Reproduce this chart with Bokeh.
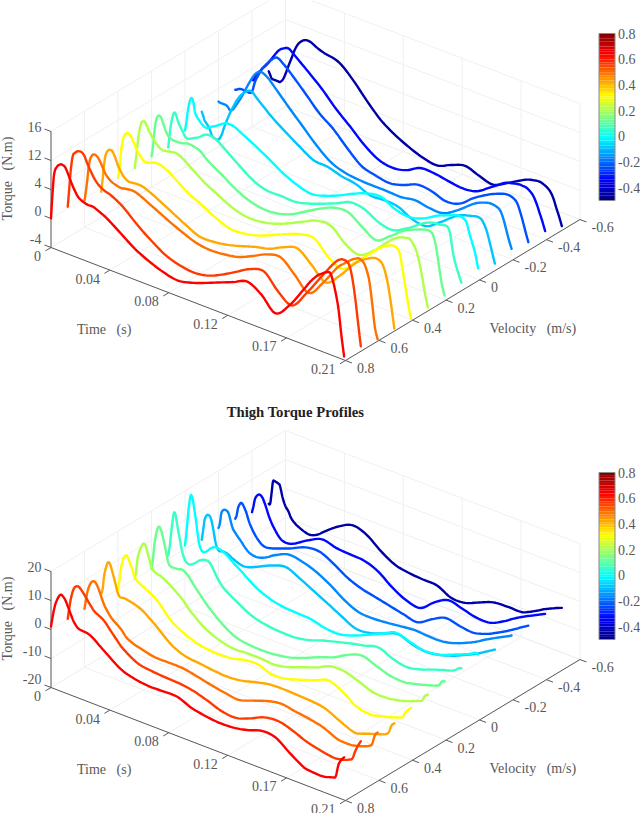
import numpy as np
from bokeh.plotting import figure
from bokeh.models import Range1d
from bokeh.core.properties import value
from bokeh.embed import file_html
from bokeh.resources import INLINE

time_ms=[0,1,2,3,4,5,6,7,8,10,12,14,16,19,22,26,30,35,40,50,60,70,80,90,100,110,120,130,140,150,160,170,180,185,190,193,196,199,201,203,205,207,209]
velocity=[0.8,0.7,0.6,0.5,0.4,0.3,0.2,0.1,0.0,-0.1,-0.2,-0.3,-0.4,-0.5]
colors=["#ff0000","#ff3a00","#ff7000","#ffa800","#ffff00","#b0ff48","#68ff90","#38ffc4","#00ffff","#00c4ff","#0088ff","#0050ff","#0008ff","#0000a8"]

torque_upper=[
[1,5.1,8.4,9.7,10.2,10.6,10.8,11,11,10.8,9.9,8.8,7.8,6.6,6.1,5.8,5.8,5.3,4.7,3,1.3,0.1,-0.8,-1.3,-0.8,0.1,1.1,2.1,3.1,1.8,-0.5,1.8,5.4,7.3,8.8,9.4,9.9,10.1,8.9,7,4.4,0.2,-3.4],
[1.3,4.3,7.4,9.6,10.7,11,11.3,11.5,11.6,11.6,11.1,10,9.1,7.9,7.1,6.5,6.2,5.6,4.8,2.7,0.9,-0.6,-1.4,-1.7,-1.3,-0.2,1.2,2.6,3.1,0.6,-0.9,2.1,5.7,7.5,9.2,10,10.4,10.3,9.7,7.7,4.5,0.5,-3.4],
[0.6,2.3,4.4,6.7,8.1,8.7,9.1,9.2,9.2,8.8,8,7,6.3,5.7,5.4,5.2,5.4,5.5,5.1,3.9,2.7,1.6,0.7,0.4,0.6,1.1,2.2,3.4,3.8,1.7,-0.5,2.2,5.7,6.9,8,8.5,8.8,8.4,7.4,5.7,2.2,-1.9,-3.9],
[0.4,2.7,5.2,6.9,7.6,8,8.2,8.2,8.1,7.2,6,5.2,4.5,4,4,4.1,4,3.5,2.9,1.6,0.3,-0.8,-0.8,-0.4,0.3,1.1,1.7,2.9,3.6,1.7,-0.4,1.7,4.6,5.7,6.5,6.9,7.1,6.9,6.3,4.9,2.7,-0.4,-3.8],
[1.1,2.6,5.3,7.3,8.4,9,9.3,9.4,9.3,8.8,7.8,6.9,6.3,5.6,5.7,6.1,6.1,5.6,4.8,3.1,1.9,0.6,-0.3,-0.2,0.4,1.4,2.5,3.4,3.6,1.3,0.2,2.4,4.7,5.9,6.9,7.3,7.6,7.4,6.6,4,1.2,-1.6,-3.9],
[1,3,5.3,7.2,8.6,9.4,9.6,9.7,9.4,8.4,7.7,7,6.5,6,6,6.2,6.3,5.7,4.8,3.1,1.8,0.6,0,0.1,0.7,1.7,2.9,4,4,1.9,0.9,2.5,4.9,6,6.7,6.9,7,6.2,5.2,3.5,1.2,-1.5,-3.6],
[1.3,2.9,5.6,7.5,8.4,8.8,8.8,8.6,8,6.7,5.9,5.6,5.5,5.5,5.6,5.9,5.8,5.4,4.3,2.8,1.2,0.1,-0.4,-0.2,0.6,2,3.4,4.5,4.7,3.1,1.7,3.3,5.2,5.8,6.3,6.6,6.8,6.8,6.2,4.4,1.4,-1.5,-3.3],
[1.1,3.4,5.3,6.6,7.4,7.5,6.9,6.2,5.7,4.9,4.1,3.9,4.1,4.5,4.9,5.7,5.9,5.5,4.6,2.8,1.1,0.2,0.2,0.1,0.7,1.6,2.6,3.7,3.4,2.1,1.7,2.9,4.6,5.3,5.7,5.7,5.9,5.9,4.9,1.8,-0.1,-1.5,-2.8],
[2.3,3.8,5.8,7.2,8.1,8.3,7.7,6.3,5.6,5,4.5,4.2,4.2,4.7,5.1,5.8,6.3,6.2,5.6,4.3,2.9,1.4,0.3,-0.3,0.3,1.3,2.5,3.5,3.8,2.6,2.2,2.9,4.3,4.8,5.3,5.6,5.7,5.5,4.9,3.2,1.8,0.2,-2.1],
[3.8,3.2,2.5,2.2,1.9,1.6,1.1,0.5,0.2,0,0.1,1,2.6,4.7,6.5,8.5,9.8,10.6,9.6,7.5,5.8,4.2,2.8,2.6,1.9,1.5,0.5,0.6,0.4,-0.8,-1.1,0.5,2.4,3.1,3.5,3.7,3.9,3.8,3.2,2.2,0.6,-1.2,-3],
[3.8,3.7,3.7,3.7,3.7,3.7,3.6,3.4,3.1,3.3,4.1,5,5.9,7.5,9.1,10.9,11.7,11.2,10,7.5,5.1,2.7,0.8,-0.1,-0.4,-0.5,-0.5,-0.6,-0.2,-0.6,-0.6,0.8,2.7,3.5,4,4.2,4.2,4,3.6,2.5,0.9,-0.8,-2.2],
[4.1,4.2,4.4,4.5,4.6,4.6,4.6,4.6,4.6,4.5,4.9,6.7,7.9,9.4,10.5,11.7,12.4,11.6,10.5,8.1,5.6,3.8,1.4,-0.7,-1.4,-1.8,-1.2,-0.2,-0.4,-1.2,-0.7,1.2,2.7,3.3,3.8,4,4,3.7,3.2,2,0.5,-1.2,-2.8],
[4.2,4.1,4.6,5.1,5.5,5.9,6.2,6.6,6.9,7.5,8.2,9,9.8,10.9,11.5,11.9,11.2,10.2,9.2,7.1,4.6,2.5,0.3,-1.3,-1.8,-1.3,0,0,-0.4,-0.7,-0.3,1.3,3,3.4,3.7,3.7,3.6,3.1,2.5,1.5,0.2,-1.1,-2.6],
[3.8,3.3,2.8,2.7,2.7,2.7,2.7,2.7,2.7,3.3,4.5,6,7.4,9.5,10.8,11.6,11.6,11,10.6,10,7.9,5.2,2.8,1.2,0,-0.9,-1.3,-0.3,0.5,-0.3,-0.9,0.3,1.7,2.3,2.6,2.7,2.5,2.1,1.6,0.7,-0.7,-2,-3.5],
]
torque_thigh=[
[1.0,4.1,6.9,9.1,10.6,11.8,12.8,13.3,13.2,12.2,10.2,8.0,5.9,4.1,3.7,3.5,2.6,0.7,-1.1,-4.5,-6.0,-6.6,-6.5,-6.5,-8.4,-9.4,-9.9,-9.7,-8.7,-7.1,-7.5,-10.9,-14.0,-14.5,-14.7,-14.7,-14.5,-14.0,-13.7,-13.0,-8.6,-6.6,-5.3],
[0.2,3.8,7.0,9.3,11.0,12.0,12.5,12.7,12.7,11.8,10.6,9.3,8.0,6.3,5.5,4.3,2.1,-0.6,-3.0,-5.9,-6.7,-7.1,-7.3,-8.1,-9.6,-11.3,-11.7,-10.0,-7.8,-7.2,-8.5,-10.5,-11.7,-12.2,-12.5,-12.3,-12.0,-11.5,-11.0,-10.3,-7.4,-5.1,-3.2],
[0.2,3.4,6.2,8.1,9.4,10.3,10.8,10.9,10.6,9.0,6.5,4.2,2.6,0.7,-0.5,-2.0,-4.2,-5.4,-6.1,-7.2,-7.2,-7.3,-8.2,-9.3,-10.2,-10.8,-9.2,-7.5,-6.5,-7.3,-8.0,-9.1,-11.2,-11.5,-11.5,-11.2,-10.8,-10.3,-9.9,-9.4,-8.5,-5.1,-3.7],
[1.9,3.7,8.3,10.8,12.7,13.7,13.5,12.4,10.8,7.5,4.1,3.2,3.4,3.2,2.9,2.3,1.4,-0.4,-2.3,-6.4,-8.5,-9.1,-9.7,-10.0,-9.5,-8.2,-7.1,-6.9,-7.1,-7.3,-8.1,-10.4,-12.4,-12.0,-11.1,-10.6,-10.1,-9.6,-9.3,-8.8,-7.8,-5.1,-4.0],
[-0.7,3.3,7.2,9.7,11.4,12.4,12.7,12.2,11.3,9.0,6.3,5.2,4.7,3.9,3.2,2.0,0.3,-2.5,-4.6,-7.1,-8.6,-9.1,-8.9,-7.7,-7.4,-9.1,-8.6,-7.1,-5.4,-3.6,-5.6,-8.9,-9.8,-9.3,-8.7,-8.3,-7.8,-7.3,-6.9,-6.4,-4.4,-3.2,-2.1],
[0.1,3.1,7.5,9.6,11.2,12.4,13.3,13.4,12.6,9.4,6.2,5.2,4.8,4.4,3.6,2.3,0.9,-1.2,-3.8,-7.6,-9.8,-10.9,-10.7,-10.7,-11.0,-9.9,-8.1,-6.3,-4.1,-4.1,-5.7,-7.5,-7.6,-7.2,-6.7,-6.2,-5.7,-5.1,-4.7,-4.3,-3.8,-1.9,-1.1],
[0.1,3.4,8.6,11.8,14.2,15.5,15.5,14.4,12.8,8.7,4.4,3.4,3.4,3.5,3.8,2.6,0.2,-2.6,-5.2,-9.4,-12.3,-13.2,-13.4,-13.0,-12.0,-10.2,-8.1,-6.3,-3.6,-2.0,-3.6,-5.2,-5.6,-5.1,-4.5,-4.1,-3.6,-3.2,-2.9,-2.5,-2.0,-0.4,0.1],
[1.2,4.3,9.0,13.3,16.6,16.5,14.1,11.3,9.0,4.3,1.8,1.0,1.1,2.1,3.5,4.5,4.0,0.0,-2.9,-6.0,-8.6,-9.8,-10.3,-10.3,-9.4,-7.7,-6.3,-5.0,-3.9,-2.7,-4.7,-5.7,-4.7,-3.8,-2.9,-2.4,-1.9,-1.5,-1.2,-0.8,-0.2,0.7,1.1],
[1.2,5.6,11.3,16.0,19.1,19.0,16.8,13.8,10.6,3.9,1.6,1.5,2.3,3.9,4.6,4.3,3.3,1.4,-0.2,-3.7,-5.9,-7.0,-7.3,-7.6,-8.8,-9.0,-7.6,-5.5,-3.3,-1.0,-2.2,-3.4,-3.0,-2.2,-1.2,-0.6,0.0,0.6,1.0,1.5,2.0,2.6,2.4],
[-0.3,3.1,6.8,8.3,9.0,9.1,8.7,7.5,5.3,0.3,-1.8,-1.7,-1.5,-1.9,-2.7,-3.5,-3.9,-3.3,-2.2,0.1,1.4,-0.7,-3.2,-5.7,-8.3,-10.6,-10.2,-8.5,-6.9,-8.5,-9.3,-8.5,-6.9,-5.8,-4.7,-4.0,-3.2,-2.4,-1.8,-1.2,-0.6,0.0,0.6],
[0.3,2,5.7,6.8,7.3,7.4,7.3,6.8,5.5,2.2,0.8,-0.3,-1.3,-3,-4.2,-4.7,-4.4,-3.3,-1.7,0.4,-0.3,-2,-4.7,-8,-10.2,-10.5,-10.1,-9.5,-9,-9.3,-9.2,-7.9,-5.8,-4.5,-3,-2.2,-1.4,-0.6,-0.1,0.4,0.9,1.4,2],
[0,1.4,4.1,5.4,6.2,6.1,5.4,4.5,3.4,0.6,-1.3,-2.9,-4.1,-5.4,-5.8,-5.4,-4.7,-3.8,-2.8,-0.6,-0.2,-2.5,-5.5,-7.4,-8.5,-9.6,-10.7,-11.6,-8.7,-6.4,-7.3,-7.8,-6.3,-5.1,-3.8,-3,-2.1,-1.2,-0.6,0.1,0.7,1.3,1.9],
[-1.2,0.9,3.5,4.7,5.4,5.8,5.8,5.4,4.7,2.4,-0.3,-2.4,-4,-6,-7.1,-7.2,-6.5,-5,-3.5,-1.3,-2.4,-2.8,-3.1,-5,-8.6,-11.2,-12,-8.2,-5.6,-6.7,-7.9,-7.8,-5.4,-3.8,-2.3,-1.5,-0.7,0,0.5,1,1.5,2,2.5],
[-1.8,-1.6,2.2,6.4,6.8,6.7,6.6,6.4,5.9,2,-0.5,-1.8,-3.8,-5.2,-6,-6.8,-7,-5.9,-3.9,-0.3,1.9,0.4,-3.3,-6.1,-7.1,-7.5,-7.7,-10.1,-10,-8,-6.1,-5.7,-5.7,-4.8,-3.5,-2.7,-1.8,-1.1,-0.6,-0.2,0.3,0.7,1.1],
]

time_ticks=[0,42,84,126,168,210]; time_labels=["0","0.04","0.08","0.12","0.17","0.21"]
vel_ticks=[-0.6,-0.4,-0.2,0,0.2,0.4,0.6,0.8]; vel_labels=["-0.6","-0.4","-0.2","0","0.2","0.4","0.6","0.8"]
zt_upper=[-4,1,6,11,16]; zl_upper=["-4","0","4","12","16"]
zt_thigh=[-20,-10,0,10,20]; zl_thigh=["-20","-10","0","10","20"]
cb_ticks=[0.8,0.6,0.4,0.2,0,-0.2,-0.4]; cb_labels=["0.8","0.6","0.4","0.2","0","-0.2","-0.4"]

X0=50.5; DXT=294.5/210; DYT=113/210; DXV=234.5/14; DYV=141/14

p=figure(width=640,height=813,x_range=Range1d(0,640),y_range=Range1d(813,0),output_backend="svg",toolbar_location=None,min_border=0,outline_line_color=None)
p.axis.visible=False; p.grid.visible=False
p.styles={"position":"absolute","left":"0px","top":"0px"}
F=value("Liberation Serif"); TC="#585858"; NB="\u00a0\u00a0\u00a0"
def txt(x,y,s,align="left",size="14px",angle=0,color=TC,style="normal"):
    p.text([x],[y],[s],text_font=F,text_font_size=size,text_align=align,text_baseline="middle",text_color=color,angle=angle,text_font_style=style)
def jet(f):
    r=np.clip(1.5-abs(4*f-3),0,1);g=np.clip(1.5-abs(4*f-2),0,1);b=np.clip(1.5-abs(4*f-1),0,1)
    return "#%02x%02x%02x"%(int(r*255),int(g*255),int(b*255))
def smooth(xs,ys,n=6):
    Q=np.column_stack([xs,ys]).astype(float); Q=np.vstack([Q[0],Q,Q[-1]]); out=[]
    for j in range(1,len(Q)-2):
        for s in np.linspace(0,1,n,endpoint=False):
            a,b,c,d=Q[j-1],Q[j],Q[j+1],Q[j+2]
            out.append(0.5*(2*b+(c-a)*s+(2*a-5*b+4*c-d)*s*s+(3*b-a-3*c+d)*s**3))
    out.append(Q[-2]); out=np.array(out)
    return out[:,0].tolist(),out[:,1].tolist()
def panel(Y0,Tmin,k,zt,zl,curves,cb_top):
    def P(t,v,T):
        n=(0.8-v)/0.1
        return X0+DXT*t+n*DXV, Y0+DYT*t-n*DYV-(T-Tmin)*k
    zmax=zt[-1]
    def seg(a,b,c="#f0f0f0",w=1):
        p.line([a[0],b[0]],[a[1],b[1]],line_color=c,line_width=w)
    for z in zt:
        seg(P(0,0.8,z),P(0,-0.6,z)); seg(P(0,-0.6,z),P(210,-0.6,z))
    for t in time_ticks:
        seg(P(t,0.8,Tmin),P(t,-0.6,Tmin)); seg(P(t,-0.6,Tmin),P(t,-0.6,zmax))
    for v in vel_ticks:
        seg(P(0,v,Tmin),P(210,v,Tmin)); seg(P(0,v,Tmin),P(0,v,zmax))
    A="#5a5a5a"
    seg(P(0,0.8,Tmin),P(0,0.8,zmax),A); seg(P(0,0.8,Tmin),P(210,0.8,Tmin),A); seg(P(210,0.8,Tmin),P(210,-0.6,Tmin),A)
    for j,(z,l) in enumerate(zip(zt,zl)):
        a=P(0,0.8,z); seg(a,(a[0]-6.5,a[1]-2.5),A)
        txt(41,a[1]-8.5+1.1*j,l,"right")
    for t,l in zip(time_ticks,time_labels):
        a=P(t,0.8,Tmin); seg(a,(a[0]-5.5,a[1]+3.3),A)
        txt(a[0]-10,a[1]+8.5,l,"right")
    for v,l in zip(vel_ticks,vel_labels):
        a=P(210,v,Tmin); seg(a,(a[0]+6.5,a[1]+2.5),A)
        txt(a[0]+11.5,a[1]+7.5,l,"left")
    txt(76.5,Y0+82,"Time"+NB+"(s)")
    txt(489,Y0+81,"Velocity"+NB+"(m/s)")
    txt(7,Y0-69,"Torque"+NB+"(N.m)","center",angle=np.pi/2)
    for i in range(13,-1,-1):
        xs,ys=zip(*[P(t,velocity[i],T) for t,T in zip(time_ms,curves[i])])
        sx,sy=smooth(xs,ys)
        p.line(sx,sy,line_color=colors[i],line_width=2.4,line_join="round",line_cap="round")
    h=167.0/64
    p.quad(left=[598.5]*64,right=[614.5]*64,top=[cb_top+167-h*(j+1) for j in range(64)],bottom=[cb_top+167-h*j for j in range(64)],fill_color=[jet((j+0.5)/64) for j in range(64)],line_color=None)
    p.quad(left=[598.5],right=[614.5],top=[cb_top],bottom=[cb_top+167],fill_color=None,line_color="#8a8a8a",line_width=1)
    for v,l in zip(cb_ticks,cb_labels):
        txt(617.5,cb_top+(0.8-v)/1.3*167,l)
panel(247,-4,5.8,zt_upper,zl_upper,torque_upper,33)
panel(687,-20,2.9,zt_thigh,zl_thigh,torque_thigh,472)
txt(295,411,"Thigh Torque Profiles","center",size="14.7px",color="#222222",style="bold")
open("out.html","w").write(file_html(p,INLINE))
